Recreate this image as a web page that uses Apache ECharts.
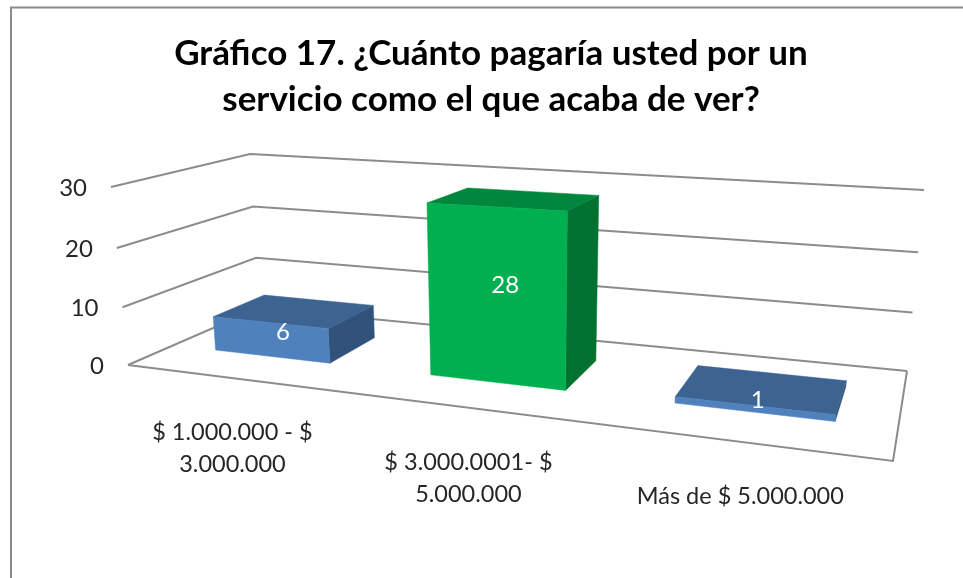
<!DOCTYPE html>
<html>
<head>
<meta charset="utf-8">
<style>html,body{margin:0;padding:0;background:#fff}#c{width:963px;height:578px}</style>
<script src="https://cdn.jsdelivr.net/npm/echarts@6/dist/echarts.min.js"></script>
</head>
<body>
<div id="c"></div>
<script>
const categories = ['$ 1.000.000 - $\n3.000.000', '$ 3.000.0001- $\n5.000.000', 'Más de $ 5.000.000'];
const values = [6, 28, 1];
const yTicks = [0, 10, 20, 30];
const titleText = 'Gráfico 17. ¿Cuánto pagaría usted por un\nservicio como el que acaba de ver?';

const FONT = 'Lato, "Open Sans", sans-serif';
const LINE = '#8c8c8c';
const BLUE = { front: '#4f81bd', top: '#3d6391', side: '#31527a' };
const GREEN = { front: '#00b050', top: '#00873d', side: '#00712f' };
const barColors = [BLUE, GREEN, BLUE];
const BAR_WIDTH = 0.188, DEPTH_NEAR = 0.31, DEPTH_FAR = 0.715;
const barNudge = [0.001, 0.009, 0.004];

// Perspective camera: floor corners (u across, v depth) and the top of the wall.
const FL = [128, 365], FR = [893, 461], BR = [907, 371], BL = [259, 308];
const topFL = [111, 187], topBL = [250, 154], topBR = [924, 190];

function makeCamera() {
  const dx1 = FR[0] - BR[0], dx2 = BL[0] - BR[0], sx = FL[0] - FR[0] + BR[0] - BL[0];
  const dy1 = FR[1] - BR[1], dy2 = BL[1] - BR[1], sy = FL[1] - FR[1] + BR[1] - BL[1];
  const den = dx1 * dy2 - dx2 * dy1;
  const g = (sx * dy2 - dx2 * sy) / den, h = (dx1 * sy - sx * dy1) / den;
  const a = FR[0] - FL[0] + g * FR[0], b = BL[0] - FL[0] + h * BL[0], c = FL[0];
  const d = FR[1] - FL[1] + g * FR[1], e = BL[1] - FL[1] + h * BL[1], f = FL[1];
  // height column by least squares over the three known wall-top corners
  const pts = [[0, 0, topFL], [0, 1, topBL], [1, 1, topBR]];
  const rows = [], rhs = [];
  pts.forEach(([u, v, t]) => {
    const w = g * u + h * v + 1;
    const x0 = a * u + b * v + c, y0 = d * u + e * v + f;
    rows.push([1, 0, -t[0]]); rhs.push(t[0] * w - x0);
    rows.push([0, 1, -t[1]]); rhs.push(t[1] * w - y0);
  });
  const M = [[0, 0, 0, 0], [0, 0, 0, 0], [0, 0, 0, 0]];
  rows.forEach((r, k) => {
    for (let i = 0; i < 3; i++) {
      for (let j = 0; j < 3; j++) M[i][j] += r[i] * r[j];
      M[i][3] += r[i] * rhs[k];
    }
  });
  for (let i = 0; i < 3; i++) {
    let p = i;
    for (let k = i + 1; k < 3; k++) if (Math.abs(M[k][i]) > Math.abs(M[p][i])) p = k;
    [M[i], M[p]] = [M[p], M[i]];
    for (let k = 0; k < 3; k++) {
      if (k === i) continue;
      const q = M[k][i] / M[i][i];
      for (let j = i; j < 4; j++) M[k][j] -= q * M[i][j];
    }
  }
  const A = M[0][3] / M[0][0], B = M[1][3] / M[1][1], C = M[2][3] / M[2][2];
  const base = (u, v, t) => {
    const w = g * u + h * v + 1 + C * t;
    return [(a * u + b * v + c + A * t) / w, (d * u + e * v + f + B * t) / w];
  };
  // keep the wall-top corners exactly where they belong: small bilinear residual
  const res = pts.map(([u, v, p]) => {
    const q = base(u, v, 1);
    return [p[0] - q[0], p[1] - q[1]];
  });
  return (u, v, t) => {
    const q = base(u, v, t);
    const wFL = (1 - u) * (1 - v), wBL = (1 - u) * v, wBR = u * v;
    return [
      q[0] + t * (wFL * res[0][0] + wBL * res[1][0] + wBR * res[2][0]),
      q[1] + t * (wFL * res[0][1] + wBL * res[1][1] + wBR * res[2][1])
    ];
  };
}
const project = makeCamera();

// normalised position of a data point taken from the chart's own scales
function norm(params, api, cat, val) {
  const r = params.coordSys;
  const p = api.coord([cat, val]);
  return [(p[0] - r.x) / r.width, 1 - (p[1] - r.y) / r.height];
}
const lineStyle = { stroke: LINE, lineWidth: 2, fill: null };

function renderGrid(params, api) {
  const val = api.value(0);
  const t = norm(params, api, 0, val)[1];
  const children = [{
    type: 'polyline',
    shape: { points: [project(0, 0, t), project(0, 1, t), project(1, 1, t)] },
    style: lineStyle
  }];
  if (val === 0) {
    children.push({
      type: 'polyline',
      shape: { points: [project(0, 0, 0), project(1, 0, 0), project(1, 1, 0)] },
      style: lineStyle
    });
  }
  const e = project(0, 0, t);
  children.push({
    type: 'text',
    style: { x: e[0] - 24, y: e[1] + 1, text: String(val), fill: '#262626', font: '24px ' + FONT, align: 'right', verticalAlign: 'middle' }
  });
  return { type: 'group', children };
}

function renderBar(params, api) {
  const i = api.value(0), val = api.value(1);
  const n = norm(params, api, i, val);
  const uc = n[0] + barNudge[i];
  const u0 = uc - BAR_WIDTH / 2, u1 = uc + BAR_WIDTH / 2, t = n[1];
  const c = barColors[i];
  const P = project;
  const poly = (pts, fill) => ({ type: 'polygon', shape: { points: pts }, style: { fill, stroke: fill, lineWidth: 0.5 } });
  const lab = project(uc, 0.41, t * 0.53);
  const catPos = project(uc, 0, 0);
  return {
    type: 'group',
    children: [
      poly([P(u1, DEPTH_NEAR, 0), P(u1, DEPTH_FAR, 0), P(u1, DEPTH_FAR, t), P(u1, DEPTH_NEAR, t)], c.side),
      poly([P(u0, DEPTH_NEAR, t), P(u1, DEPTH_NEAR, t), P(u1, DEPTH_FAR, t), P(u0, DEPTH_FAR, t)], c.top),
      poly([P(u0, DEPTH_NEAR, 0), P(u1, DEPTH_NEAR, 0), P(u1, DEPTH_NEAR, t), P(u0, DEPTH_NEAR, t)], c.front),
      { type: 'text', z2: 5, style: { x: lab[0], y: lab[1], text: String(val), fill: '#ffffff', font: '24px ' + FONT, align: 'center', verticalAlign: 'middle' } },
      { type: 'text', style: { x: catPos[0] + 2.5, y: catPos[1] + 39, text: categories[i], fill: '#262626', font: '23.5px ' + FONT, lineHeight: 32, align: 'center', verticalAlign: 'top' } }
    ]
  };
}

const chart = echarts.init(document.getElementById('c'), null, { renderer: 'canvas' });
chart.setOption({
  animation: false,
  backgroundColor: '#ffffff',
  title: {
    text: titleText, left: 486, top: 26, textAlign: 'center',
    textStyle: { fontFamily: FONT, fontWeight: 'bold', fontSize: 35, lineHeight: 46, color: '#000000' }
  },
  graphic: [{
    type: 'polyline', silent: true,
    shape: { points: [[11, 578], [11, 7.5], [963, 7.5]] },
    style: { stroke: '#8a8a8a', lineWidth: 2, fill: null }
  }],
  grid: { left: 128, top: 187, width: 765, height: 178 },
  xAxis: { type: 'category', data: categories, show: false },
  yAxis: { type: 'value', min: 0, max: 30, interval: 10, show: false },
  series: [
    { type: 'custom', name: 'rejilla', renderItem: renderGrid, data: yTicks.map(v => [v]), encode: { y: 0 }, silent: true },
    { type: 'custom', name: 'Respuestas', renderItem: renderBar, data: values.map((v, i) => [i, v]), encode: { x: 0, y: 1 }, silent: true }
  ]
});
</script>
</body>
</html>
